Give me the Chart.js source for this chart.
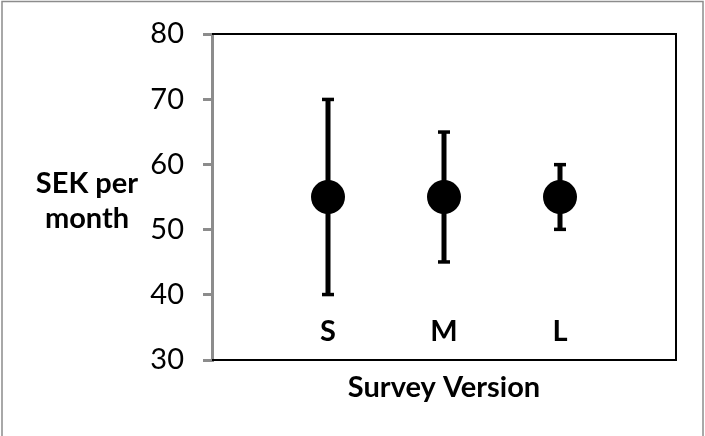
<!DOCTYPE html>
<html>
<head>
<meta charset="utf-8">
<script src="https://cdn.jsdelivr.net/npm/chart.js@4/dist/chart.umd.min.js"></script>
<style>
  html, body { margin: 0; padding: 0; background: #fff; }
  #wrap { width: 705px; height: 436px; }
</style>
</head>
<body>
<div id="wrap"><canvas id="grafico" width="705" height="436"></canvas></div>
<script>
var versiones = ['S', 'M', 'L'];
var posiciones = [1, 2, 3];
var medias = [55, 55, 55];
var minimos = [40, 45, 50];
var maximos = [70, 65, 60];
var ticks_y = [30, 40, 50, 60, 70, 80];

var fuente = 'Lato, "Liberation Sans", sans-serif';

var puntos = [];
for (i = 0; i < versiones.length; i++) {
    puntos.push({ x: posiciones[i], y: medias[i] });
}

// barras de error, etiquetas y textos
var extras = {
    id: 'extras',
    beforeDatasetsDraw: function (chart) {
        var c = chart.ctx;
        var sx = chart.scales.x;
        var sy = chart.scales.y;
        var a = chart.chartArea;
        c.save();
        // marco exterior
        c.strokeStyle = '#8c8c8c';
        c.lineWidth = 1.5;
        c.strokeRect(2, 1.5, 701, 445);
        // borde del area
        c.strokeStyle = '#000';
        c.lineWidth = 2;
        c.beginPath();
        c.moveTo(a.left, a.top);
        c.lineTo(a.right, a.top);
        c.lineTo(a.right, a.bottom);
        c.lineTo(a.left, a.bottom);
        c.stroke();
        // barras de error
        c.fillStyle = '#000';
        for (i = 0; i < versiones.length; i++) {
            var px = sx.getPixelForValue(posiciones[i]);
            var ya = sy.getPixelForValue(maximos[i]);
            var yb = sy.getPixelForValue(minimos[i]);
            c.fillRect(px - 2.5, ya, 5, yb - ya);
            c.fillRect(px - 6, ya - 1.5, 12, 3.5);
            c.fillRect(px - 6, yb - 2, 12, 3.5);
        }
        // etiquetas S M L
        c.font = 'bold 29px ' + fuente;
        c.textAlign = 'center';
        c.textBaseline = 'middle';
        for (i = 0; i < versiones.length; i++) {
            c.fillText(versiones[i], sx.getPixelForValue(posiciones[i]), sy.getPixelForValue(34.3));
        }
        // titulos
        c.font = 'bold 29px ' + fuente;
        c.fillText('Survey Version', (a.left + a.right) / 2, 388);
        c.fillText('SEK per', 87, 184);
        c.fillText('month', 87, 219);
        c.restore();
    }
};

var chart_sek = new Chart(document.getElementById('grafico').getContext('2d'), {
    type: 'scatter',
    data: {
        datasets: [{
            data: puntos,
            pointRadius: 17,
            pointHoverRadius: 17,
            backgroundColor: '#000',
            borderColor: '#000',
            borderWidth: 0
        }]
    },
    options: {
        responsive: false,
        animation: false,
        events: [],
        layout: { padding: { top: 34, right: 29, left: 0, bottom: 0 } },
        plugins: { legend: { display: false }, tooltip: { enabled: false } },
        scales: {
            x: {
                type: 'linear',
                min: 0,
                max: 4,
                ticks: { display: false },
                grid: { display: false },
                border: { display: false },
                afterFit: function (s) { s.height = 76; }
            },
            y: {
                min: 30,
                max: 80,
                afterBuildTicks: function (s) {
                    s.ticks = ticks_y.map(function (v) { return { value: v }; });
                },
                ticks: {
                    color: '#000',
                    font: { family: fuente, size: 29, lineHeight: 1 },
                    padding: 19
                },
                grid: {
                    drawOnChartArea: false,
                    color: '#8c8c8c',
                    tickColor: '#8c8c8c',
                    tickLength: 9,
                    lineWidth: 3
                },
                border: { color: '#8c8c8c', width: 3 },
                afterFit: function (s) { s.width = 212; }
            }
        }
    },
    plugins: [extras]
});
</script>
</body>
</html>
